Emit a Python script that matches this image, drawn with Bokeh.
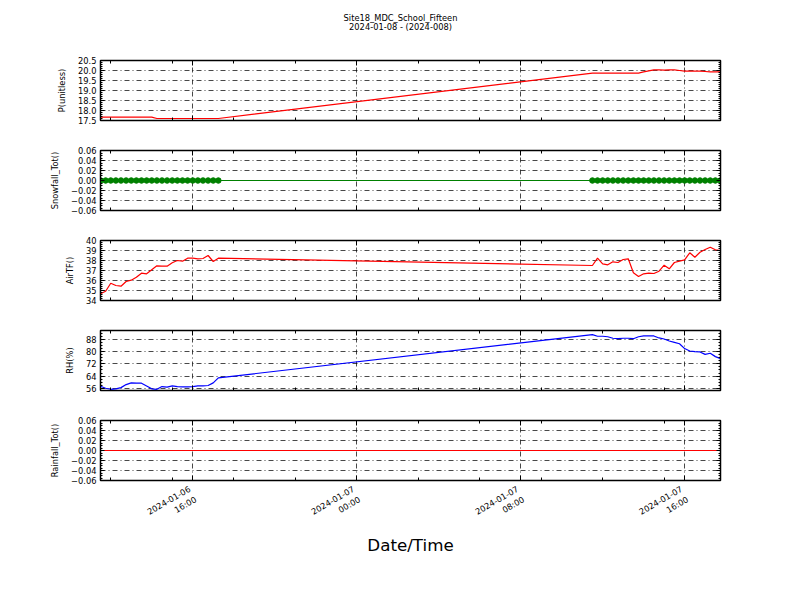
import math
import numpy as np
import pandas as pd
from bokeh.plotting import figure
from bokeh.layouts import column
from bokeh.models import Range1d, FixedTicker, LinearAxis, DatetimeAxis, ColumnDataSource
from bokeh.embed import file_html
from bokeh.resources import INLINE
from bokeh.core.properties import value

# ---------------- data ----------------
title_line1 = "Site18_MDC_School_Fifteen"
title_line2 = "2024-01-08 - (2024-008)"
x_label = "Date/Time"

times_day1 = pd.date_range("2024-01-06 11:30", "2024-01-06 17:15", freq="15min")
times_day2 = pd.date_range("2024-01-07 11:30", "2024-01-07 17:45", freq="15min")
times = times_day1.append(times_day2)

p_unitless = [17.67, 17.67, 17.67, 17.67, 17.67, 17.67, 17.67, 17.67, 17.67, 17.67, 17.67,
              17.60, 17.60, 17.60, 17.60, 17.60, 17.60, 17.60, 17.60, 17.60, 17.60, 17.60, 17.60, 17.60,
              19.87, 19.87, 19.87, 19.87, 19.87, 19.87, 19.87, 19.87, 19.87, 19.87,
              19.93, 19.98, 20.03, 20.03, 20.02, 20.03, 20.03, 20.00, 19.97, 19.97,
              19.97, 19.97, 19.95, 19.93, 19.93, 19.93]

snowfall_tot = [0.00, 0.00, 0.00, 0.00, 0.00, 0.00, 0.00, 0.00, 0.00, 0.00, 0.00, 0.00,
                0.00, 0.00, 0.00, 0.00, 0.00, 0.00, 0.00, 0.00, 0.00, 0.00, 0.00, 0.00,
                0.00, 0.00, 0.00, 0.00, 0.00, 0.00, 0.00, 0.00, 0.00, 0.00, 0.00, 0.00, 0.00,
                0.00, 0.00, 0.00, 0.00, 0.00, 0.00, 0.00, 0.00, 0.00, 0.00, 0.00, 0.00, 0.00]

air_tf = [34.67, 34.93, 35.73, 35.50, 35.43, 35.90, 36.03, 36.33, 36.73, 36.67, 37.07, 37.47,
          37.43, 37.43, 37.77, 38.00, 37.93, 38.23, 38.23, 38.17, 38.20, 38.50, 37.90, 38.23,
          37.50, 38.23, 37.67, 37.57, 37.87, 37.80, 38.10, 38.17, 36.77, 36.40, 36.67, 36.73, 36.70,
          36.93, 37.53, 37.17, 37.80, 37.93, 38.07, 38.77, 38.33, 38.83, 39.10, 39.33, 39.07, 39.00]

rh_pct = [57.3, 56.0, 55.3, 55.6, 56.4, 58.4, 59.5, 59.3, 59.3, 57.5, 55.6, 55.3,
          57.1, 56.7, 57.5, 57.1, 56.9, 56.9, 57.1, 57.5, 57.5, 57.8, 59.5, 62.8,
          91.3, 90.2, 90.2, 89.9, 88.9, 88.6, 88.9, 88.9, 88.6, 89.9, 90.4, 90.4, 90.4,
          89.1, 88.4, 87.1, 86.2, 85.3, 82.1, 80.5, 80.1, 79.9, 78.3, 79.0, 76.8, 75.5]

rainfall_tot = [0.00, 0.00, 0.00, 0.00, 0.00, 0.00, 0.00, 0.00, 0.00, 0.00, 0.00, 0.00,
                0.00, 0.00, 0.00, 0.00, 0.00, 0.00, 0.00, 0.00, 0.00, 0.00, 0.00, 0.00,
                0.00, 0.00, 0.00, 0.00, 0.00, 0.00, 0.00, 0.00, 0.00, 0.00, 0.00, 0.00, 0.00,
                0.00, 0.00, 0.00, 0.00, 0.00, 0.00, 0.00, 0.00, 0.00, 0.00, 0.00, 0.00, 0.00]

x_start, x_end = "2024-01-06 11:30", "2024-01-07 17:45"
x_major = ["2024-01-06 16:00", "2024-01-07 00:00", "2024-01-07 08:00", "2024-01-07 16:00"]
x_major_labels = ["2024-01-06\n16:00", "2024-01-07\n00:00", "2024-01-07\n08:00", "2024-01-07\n16:00"]
x_minor = ["2024-01-06 12:00", "2024-01-06 15:00", "2024-01-06 18:00", "2024-01-06 21:00",
           "2024-01-07 00:00", "2024-01-07 03:00", "2024-01-07 06:00", "2024-01-07 09:00",
           "2024-01-07 12:00", "2024-01-07 15:00"]

p_ticks = [17.5, 18.0, 18.5, 19.0, 19.5, 20.0, 20.5]
p_labels = ["17.5", "18.0", "18.5", "19.0", "19.5", "20.0", "20.5"]
snow_ticks = [-0.06, -0.04, -0.02, 0.0, 0.02, 0.04, 0.06]
snow_labels = ["\u22120.06", "\u22120.04", "\u22120.02", "0.00", "0.02", "0.04", "0.06"]
air_ticks = [34, 35, 36, 37, 38, 39, 40]
air_labels = ["34", "35", "36", "37", "38", "39", "40"]
rh_ticks = [56, 64, 72, 80, 88]
rh_labels = ["56", "64", "72", "80", "88"]
rain_ticks = snow_ticks
rain_labels = snow_labels

# ---------------- helpers ----------------
def ms(s):
    return float(pd.Timestamp(s).value // 10**6)

FONT = "DejaVu Sans"
TICK_FS = "8.3px"
FRAME_W = 620
FRAME_H = 60
LEFT = 100
RIGHT = 64

x_rng = Range1d(start=pd.Timestamp(x_start), end=pd.Timestamp(x_end))
x_ticker = FixedTicker(ticks=[ms(s) for s in x_major], minor_ticks=[ms(s) for s in x_minor])
x_overrides = {ms(s): lab for s, lab in zip(x_major, x_major_labels)}


def minor_of(ticks, ndiv, lo, hi):
    step = (ticks[1] - ticks[0]) / ndiv
    k0 = math.floor((lo - ticks[0]) / step)
    k1 = math.ceil((hi - ticks[0]) / step)
    out = []
    for k in range(k0, k1 + 1):
        v = ticks[0] + k * step
        if lo - 1e-9 <= v <= hi + 1e-9:
            out.append(v)
    return out


def style_axis(ax, major_in, minor_in, labels_visible, standoff=4):
    ax.major_tick_in = major_in
    ax.major_tick_out = 0
    ax.minor_tick_in = minor_in
    ax.minor_tick_out = 0
    ax.major_tick_line_color = "black"
    ax.minor_tick_line_color = "black"
    ax.axis_line_color = "black"
    ax.major_label_text_font = FONT
    ax.major_label_text_font_size = TICK_FS
    ax.major_label_text_color = "black" if labels_visible else None
    ax.major_label_standoff = standoff


def make_panel(ylabel, vals, color, ylo, yhi, yticks, ylabels, ndiv,
               markers=False, bottom=False):
    p = figure(x_axis_type="datetime", x_range=x_rng, y_range=Range1d(ylo, yhi),
               frame_width=FRAME_W, frame_height=FRAME_H,
               min_border_left=LEFT, min_border_right=RIGHT,
               min_border_top=15, min_border_bottom=90 if bottom else 15,
               toolbar_location=None, output_backend="svg", title=None)
    p.background_fill_color = "white"
    p.border_fill_color = "white"
    p.outline_line_color = "black"
    p.outline_line_width = 1.5

    y_ticker = FixedTicker(ticks=yticks, minor_ticks=minor_of(yticks, ndiv, ylo, yhi))
    y_over = {float(t): lab for t, lab in zip(yticks, ylabels)}

    # left axis
    ya = p.yaxis[0]
    ya.ticker = y_ticker
    ya.major_label_overrides = y_over
    style_axis(ya, 4, 2, True)
    ya.axis_label = ylabel
    ya.axis_label_text_font = FONT
    ya.axis_label_text_font_size = TICK_FS
    ya.axis_label_text_font_style = "normal"
    ya.axis_label_text_color = "black"
    ya.axis_label_standoff = 8

    # bottom axis
    xa = p.xaxis[0]
    xa.ticker = x_ticker
    xa.major_label_overrides = x_overrides
    style_axis(xa, 5, 3, bottom, standoff=13 if bottom else 4)
    if bottom:
        xa.major_label_orientation = math.pi / 6
        xa.axis_label = x_label
        xa.axis_label_text_font = FONT
        xa.axis_label_text_font_size = "16.7px"
        xa.axis_label_text_font_style = "normal"
        xa.axis_label_text_color = "black"
        xa.axis_label_standoff = -5

    # top / right mirror axes (ticks only)
    top = DatetimeAxis(ticker=x_ticker)
    style_axis(top, 5, 3, False)
    p.add_layout(top, "above")
    right = LinearAxis(ticker=y_ticker)
    style_axis(right, 4, 2, False)
    p.add_layout(right, "right")

    for g in (p.xgrid[0], p.ygrid[0]):
        g.grid_line_color = "black"
        g.grid_line_width = 0.8
        g.grid_line_dash = "5 3 1 3"
        g.grid_line_alpha = 0.9
    p.xgrid[0].ticker = x_ticker
    p.ygrid[0].ticker = y_ticker

    src = ColumnDataSource(dict(t=times, v=vals))
    p.line("t", "v", source=src, line_color=color, line_width=1.2)
    if markers:
        p.scatter("t", "v", source=src, size=5.5, fill_color=color, line_color=color)
    return p


# ---------------- title strip ----------------
TH = 45
head = figure(frame_width=FRAME_W, frame_height=TH, x_range=(0, FRAME_W), y_range=(0, TH),
              min_border_left=LEFT, min_border_right=RIGHT, min_border_top=0, min_border_bottom=0,
              toolbar_location=None, output_backend="svg", title=None)
head.axis.visible = False
head.grid.visible = False
head.outline_line_color = None
head.background_fill_color = "white"
head.border_fill_color = "white"
head.text(x=[FRAME_W / 2 - 10, FRAME_W / 2 - 10], y=[TH - 17, TH - 26],
          text=[title_line1, title_line2],
          text_align="center", text_baseline="middle", text_color="black",
          text_font=value(FONT), text_font_size=value("8.3px"))

p1 = make_panel("P(unitless)", p_unitless, "#ff0000", 17.5, 20.5, p_ticks, p_labels, 5)
p2 = make_panel("Snowfall_Tot()", snowfall_tot, "#008000", -0.06, 0.06, snow_ticks, snow_labels, 4,
                markers=True)
p3 = make_panel("AirTF()", air_tf, "#ff0000", 34, 40, air_ticks, air_labels, 5)
p4 = make_panel("RH(%)", rh_pct, "#0000ff", 54.5, 94.0, rh_ticks, rh_labels, 4)
p5 = make_panel("Rainfall_Tot()", rainfall_tot, "#ff0000", -0.06, 0.06, rain_ticks, rain_labels, 4,
                bottom=True)

layout = column(head, p1, p2, p3, p4, p5, spacing=0)

with open("out.html", "w") as f:
    f.write(file_html(layout, INLINE))
